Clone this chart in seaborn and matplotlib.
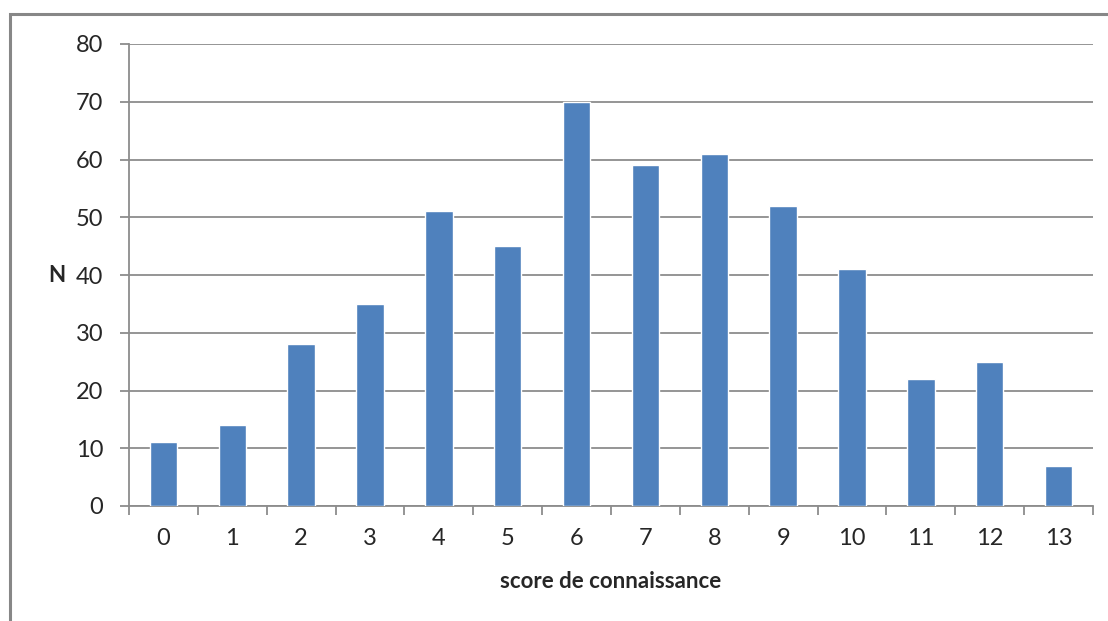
import pandas as pd
import matplotlib
matplotlib.use('Agg')
import matplotlib.pyplot as plt
import matplotlib.patches as patches
import seaborn as sns

scores = ['0', '1', '2', '3', '4', '5', '6', '7', '8', '9', '10', '11', '12', '13']
counts = [11, 14, 28, 35, 51, 45, 70, 59, 61, 52, 41, 22, 25, 7]

df = pd.DataFrame({'score': scores, 'N': counts})

sns.set_style('white')
plt.rcParams['font.family'] = ['Lato', 'DejaVu Sans']

fig = plt.figure(figsize=(11.08, 6.21), dpi=100)
ax = fig.add_axes([129 / 1108, 1 - 506 / 621, (1093 - 129) / 1108, (506 - 44) / 621])

# outer chart frame
fig.patches.append(patches.Rectangle((10 / 1108, -0.05), 1.1, 1 - 14 / 621 + 0.05,
                                     transform=fig.transFigure, fill=False,
                                     edgecolor='#878787', linewidth=2.2))

sns.barplot(data=df, x='score', y='N', color='#4f81bd', width=0.4,
            saturation=1, ax=ax, zorder=3)

ax.set_ylim(0, 80)
ax.set_xlim(-0.5, 13.5)
ax.set_yticks(range(0, 81, 10))
ax.yaxis.grid(True, color='#8c8c8c', linewidth=1.3, zorder=0)
ax.set_axisbelow(True)

for s in ['top', 'right']:
    ax.spines[s].set_visible(False)
for s in ['left', 'bottom']:
    ax.spines[s].set_color('#8c8c8c')
    ax.spines[s].set_linewidth(1.3)

ax.set_xticks([i - 0.5 for i in range(15)], minor=True)
ax.tick_params(axis='x', which='major', length=0, pad=16, labelsize=17)
ax.tick_params(axis='x', which='minor', length=6.5, width=1.3, color='#8c8c8c', direction='out', bottom=True)
ax.tick_params(axis='y', length=6.5, width=1.3, color='#8c8c8c', direction='out', left=True, pad=12, labelsize=17)

ax.set_xlabel('score de connaissance', fontsize=16, fontweight='bold')
ax.xaxis.set_label_coords(0.5, -0.141)
ax.set_ylabel('N', fontsize=16, fontweight='bold', rotation=0, va='center', ha='center')
ax.yaxis.set_label_coords(-0.0747, 0.5)

fig.savefig('out.png', dpi=100)
